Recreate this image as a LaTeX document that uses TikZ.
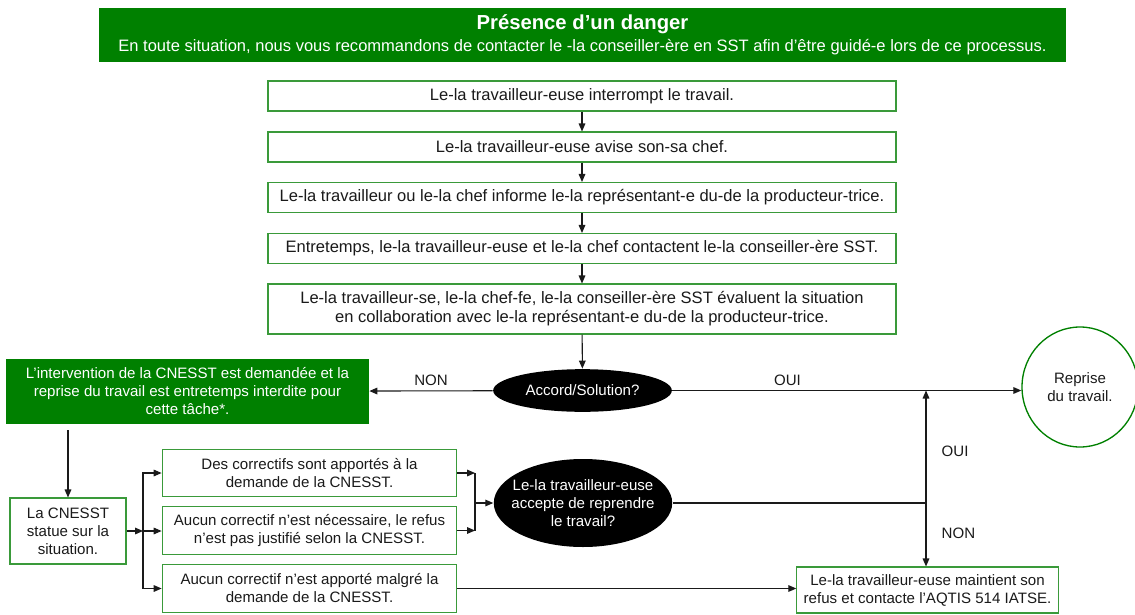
\documentclass[tikz,border=0pt]{standalone}
\usepackage{fontspec}
\setmainfont{Liberation Sans}
\usetikzlibrary{arrows.meta,shapes.geometric,positioning}
\definecolor{head}{HTML}{008000}
\definecolor{boxline}{HTML}{3A9A3A}
\definecolor{ink}{HTML}{1A1A1A}

\begin{document}
\begin{tikzpicture}[x=0.75pt, y=-0.75pt,
  font=\fontsize{11.3}{13.5}\selectfont, >={Triangle[length=6pt, width=5pt]}, line width=0.8pt, ink,
  box/.style={draw=boxline, fill=white, align=center, inner sep=2pt},
  mainbox/.style={box, font=\fontsize{12.4}{14.3}\selectfont, minimum width=471pt, minimum height=22.5pt},
  fixbox/.style={box, minimum width=221pt, minimum height=35.5pt},
  head/.style={fill=head, text=white, align=center, minimum width=725pt, minimum height=40.5pt},
  alert/.style={fill=head, text=white, align=center, minimum width=272pt, minimum height=49pt},
  choice/.style={ellipse, fill=black, text=white, align=center, inner sep=0pt},
  done/.style={ellipse, draw=head, line width=1pt, align=center, inner sep=0pt, minimum width=87pt, minimum height=90pt},
  lab/.style={font=\fontsize{11.3}{13.5}\selectfont},
  arr/.style={->, draw=ink}]
\useasboundingbox (0,0) rectangle (1135,614);
% ---------- header and main steps
\node[head] (danger) at (582.5,35) {{\fontsize{15.2}{17}\selectfont\bfseries Présence d’un danger}\\[3pt]
  {\fontsize{12.4}{14.3}\selectfont En toute situation, nous vous recommandons de contacter le -la conseiller-ère en SST afin d’être guidé-e lors de ce processus.}};
\node[mainbox] (arret) at (582,96) {Le-la travailleur-euse interrompt le travail.};
\node[mainbox] (avise) at (582,147) {Le-la travailleur-euse avise son-sa chef.};
\node[mainbox] (informe) at (582,197.5) {Le-la travailleur ou le-la chef informe le-la représentant-e du-de la producteur-trice.};
\node[mainbox] (contact) at (582,248.5) {Entretemps, le-la travailleur-euse et le-la chef contactent le-la conseiller-ère SST.};
\node[mainbox, minimum height=37.5pt] (evalue) at (582,309) {Le-la travailleur-se, le-la chef-fe, le-la conseiller-ère SST évaluent la situation\\en collaboration avec le-la représentant-e du-de la producteur-trice.};
% ---------- first decision
\node[choice, minimum width=134pt, minimum height=32pt] (accord) at (582.5,390.5) {Accord/Solution?};
\node[alert] (cnesst) at (187.5,391.5) {L’intervention de la CNESST est demandée et la\\reprise du travail est entretemps interdite pour\\cette tâche*.};
\node[done] (reprise) at (1080,387) {Reprise\\du travail.};
% ---------- CNESST branch
\node[box, minimum width=87pt, minimum height=49.5pt] (statue) at (68,531) {La CNESST\\statue sur la\\situation.};
\node[fixbox] (fixA) at (309.5,473) {Des correctifs sont apportés à la\\demande de la CNESST.};
\node[fixbox] (fixB) at (309.5,530.5) {Aucun correctif n’est nécessaire, le refus\\n’est pas justifié selon la CNESST.};
\node[fixbox] (fixC) at (309.5,588.5) {Aucun correctif n’est apporté malgré la\\demande de la CNESST.};
\node[choice, inner xsep=-6.4pt, minimum width=133.5pt, minimum height=66pt] (accepte) at (583,503) {Le-la travailleur-euse\\accepte de reprendre\\le travail?};
\node[box, minimum width=196pt, minimum height=34.5pt] (refus) at (927.5,590) {Le-la travailleur-euse maintient son\\refus et contacte l’AQTIS 514 IATSE.};
\coordinate (split) at (143,531);
\coordinate (merge) at (475,503);
\coordinate (turn) at (926,503);
% ---------- edges
\draw[arr] (arret) -- (avise);
\draw[arr] (avise) -- (informe);
\draw[arr] (informe) -- (contact);
\draw[arr] (contact) -- (evalue);
\draw[arr] (evalue) -- (accord);
\draw[arr] (accord) -- node[above, lab] {NON} (cnesst);
\draw[arr] (accord) -- node[pos=0.33, above, lab] {OUI} (reprise.west|-accord.east);
\draw[arr, shorten <=4pt] (statue.north|-cnesst.south) -- (statue.north);
\draw[arr] (statue.east|-split) -- (split);
\draw[arr] (split) |- (fixA.west);
\draw[arr] (split) -- (fixB.west|-split);
\draw[arr] (split) |- (fixC.west);
\draw[arr] (fixA.east) -- (merge|-fixA.east);
\draw[arr] (fixB.east) -- (merge|-fixB.east);
\draw (merge|-fixA.east) -- (merge|-fixB.east);
\draw[arr] (merge) -- (accepte.west);
\draw (accepte.east) -- (turn);
\draw[arr] (turn) -- node[pos=0.46, right=8pt, lab] {OUI} (turn|-accord.east);
\draw[arr] (turn) -- node[pos=0.47, right=8pt, lab] {NON} (turn|-refus.north);
\draw[arr] (fixC.east) -- (refus.west|-fixC.east);
\end{tikzpicture}
\end{document}
